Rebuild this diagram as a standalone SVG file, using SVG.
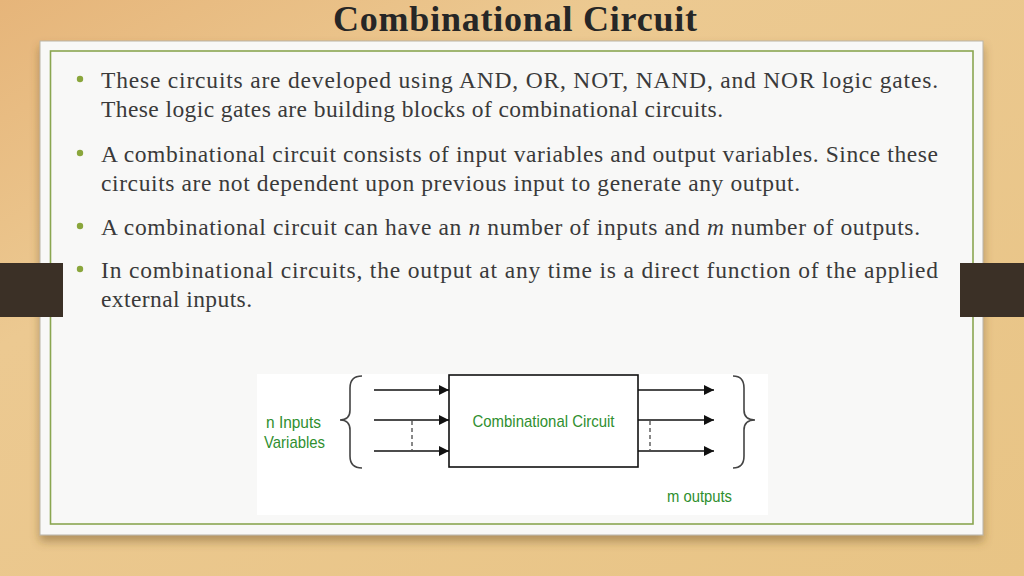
<svg xmlns="http://www.w3.org/2000/svg" width="1024" height="576" viewBox="0 0 1024 576">
  <defs>
    <linearGradient id="wood" x1="0" y1="0" x2="1" y2="1">
      <stop offset="0" stop-color="#e6b57a"/>
      <stop offset="0.3" stop-color="#ecc991"/>
      <stop offset="1" stop-color="#e8c485"/>
    </linearGradient>
    <filter id="shadow" x="-5%" y="-5%" width="110%" height="115%">
      <feDropShadow dx="0" dy="6" stdDeviation="5" flood-color="#6b4e22" flood-opacity="0.45"/>
    </filter>
    <marker id="arrow" viewBox="0 0 10 10" refX="10" refY="5" markerWidth="10" markerHeight="10" markerUnits="userSpaceOnUse" orient="auto">
      <path d="M0,0 L10,5 L0,10 Z" fill="#111"/>
    </marker>
    <style>
      .title { font-family: "Liberation Serif", "DejaVu Serif", serif; font-weight: bold; font-size: 36px; fill: #262626; }
      .body { font-family: "Liberation Serif", "DejaVu Serif", serif; font-size: 23.5px; fill: #3a3a3a; }
      .bullet { fill: #8aa63c; }
      .tab { fill: #3b3026; }
      .wire { stroke: #111; stroke-width: 1.6; fill: none; }
      .dash { stroke: #111; stroke-width: 1; stroke-dasharray: 4 3; fill: none; }
      .brace { stroke: #444; stroke-width: 1.6; fill: none; }
      .lbl { font-family: "Liberation Sans", Arial, sans-serif; font-size: 17px; fill: #2f8f2f; }
    </style>
  </defs>

  <rect width="1024" height="576" fill="url(#wood)"/>

  <g id="paper">
    <rect x="40" y="41" width="943" height="494" fill="#f8f8f7" stroke="#b9b3a6" stroke-width="1" filter="url(#shadow)"/>
    <rect x="50.5" y="51" width="922.5" height="473" fill="none" stroke="#8aa650" stroke-width="1.6"/>
  </g>

  <g id="tabs">
    <rect class="tab" x="0" y="263" width="63" height="54"/>
    <rect class="tab" x="960" y="263" width="64" height="54"/>
  </g>

  <text class="title" x="515" y="31" text-anchor="middle" textLength="364" lengthAdjust="spacing">Combinational Circuit</text>

  <g id="bullets">
    <circle class="bullet" cx="80" cy="79" r="3.2"/>
    <circle class="bullet" cx="80" cy="153" r="3.2"/>
    <circle class="bullet" cx="80" cy="226" r="3.2"/>
    <circle class="bullet" cx="80" cy="269" r="3.2"/>
  </g>

  <g id="text">
    <text class="body" x="101" y="88" textLength="837" lengthAdjust="spacing">These circuits are developed using AND, OR, NOT, NAND, and NOR logic gates.</text>
    <text class="body" x="101" y="117" textLength="622" lengthAdjust="spacing">These logic gates are building blocks of combinational circuits.</text>
    <text class="body" x="101" y="162" textLength="837" lengthAdjust="spacing">A combinational circuit consists of input variables and output variables. Since these</text>
    <text class="body" x="101" y="191" textLength="699" lengthAdjust="spacing">circuits are not dependent upon previous input to generate any output.</text>
    <text class="body" x="101" y="235" textLength="819" lengthAdjust="spacing">A combinational circuit can have an <tspan font-style="italic">n</tspan> number of inputs and <tspan font-style="italic">m</tspan> number of outputs.</text>
    <text class="body" x="101" y="278" textLength="837" lengthAdjust="spacing">In combinational circuits, the output at any time is a direct function of the applied</text>
    <text class="body" x="101" y="307" textLength="151" lengthAdjust="spacing">external inputs.</text>
  </g>

  <g id="diagram-bg">
    <rect x="257" y="374" width="511" height="141" fill="#ffffff"/>
  </g>

  <g id="node-circuit">
    <rect x="449" y="375" width="189" height="92" fill="#ffffff" stroke="#111" stroke-width="1.6"/>
    <text class="lbl" x="543.5" y="427" text-anchor="middle" textLength="142" lengthAdjust="spacingAndGlyphs">Combinational Circuit</text>
  </g>

  <g id="node-inputs">
    <path class="brace" d="M362,376 Q350,376 350,388 L350,410 Q350,420 340,420 Q350,420 350,430 L350,456 Q350,468 362,468"/>
    <text class="lbl" x="266" y="428" textLength="55" lengthAdjust="spacingAndGlyphs">n Inputs</text>
    <text class="lbl" x="264" y="448" textLength="61" lengthAdjust="spacingAndGlyphs">Variables</text>
  </g>

  <g id="node-outputs">
    <path class="brace" d="M733,376 Q744,376 744,388 L744,410 Q744,420 755,420 Q744,420 744,430 L744,456 Q744,468 733,468"/>
    <text class="lbl" x="667" y="502" textLength="65" lengthAdjust="spacingAndGlyphs">m outputs</text>
  </g>

  <g id="connectors">
    <line class="wire" x1="374" y1="390" x2="449" y2="390" marker-end="url(#arrow)"/>
    <line class="wire" x1="374" y1="420" x2="449" y2="420" marker-end="url(#arrow)"/>
    <line class="wire" x1="374" y1="451" x2="449" y2="451" marker-end="url(#arrow)"/>
    <line class="dash" x1="412" y1="421" x2="412" y2="450"/>
    <line class="wire" x1="638" y1="390" x2="714" y2="390" marker-end="url(#arrow)"/>
    <line class="wire" x1="638" y1="420" x2="714" y2="420" marker-end="url(#arrow)"/>
    <line class="wire" x1="638" y1="451" x2="714" y2="451" marker-end="url(#arrow)"/>
    <line class="dash" x1="650" y1="421" x2="650" y2="450"/>
  </g>
</svg>
